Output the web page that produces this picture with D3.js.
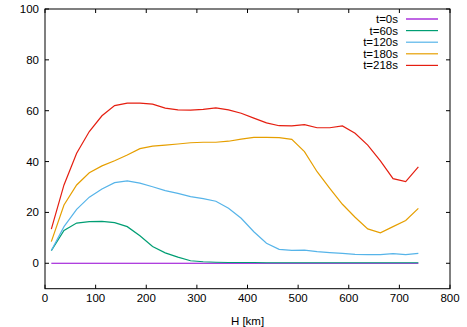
<!DOCTYPE html>
<html>
<head>
<meta charset="utf-8">
<script src="https://cdn.jsdelivr.net/npm/d3@7"></script>
<style>
  body { margin: 0; background: #fff; }
  svg { display: block; font-family: "Liberation Sans", Arial, sans-serif; }
</style>
</head>
<body>
<svg></svg>
<script>
// heights in km, one every 25 km
const heights = d3.range(30).map(i => 12.5 + 25 * i);

const seriesNames = ["t=0s", "t=60s", "t=120s", "t=180s", "t=218s"];
const seriesColors = ["#9400d3", "#009e73", "#56b4e9", "#e69f00", "#e51e10"];

const t0 = heights.map(() => 0);
const t60 = [5.0, 12.9, 15.8, 16.4, 16.5, 16.0, 14.4, 10.8, 6.6, 4.1, 2.4, 1.0, 0.6, 0.4, 0.3, 0.3,
    0.3, 0.2, 0.2, 0.2, 0.2, 0.2, 0.2, 0.2, 0.2, 0.2, 0.2, 0.2, 0.2, 0.2];
const t120 = [5.0, 14.4, 21.2, 26.0, 29.2, 31.7, 32.4, 31.5, 30.1, 28.6, 27.5, 26.2, 25.4, 24.4, 21.6, 17.7,
    12.4, 7.9, 5.5, 5.1, 5.2, 4.6, 4.2, 3.9, 3.5, 3.4, 3.4, 3.8, 3.4, 3.9];
const t180 = [8.5, 22.9, 30.8, 35.6, 38.3, 40.3, 42.6, 45.1, 46.1, 46.5, 46.9, 47.4, 47.6, 47.6, 48.0, 48.8,
    49.5, 49.5, 49.4, 48.7, 43.9, 36.0, 29.5, 23.2, 18.1, 13.5, 12.0, 14.4, 16.8, 21.6];
const t218 = [13.4, 30.8, 43.3, 51.8, 58.0, 62.0, 63.0, 63.0, 62.6, 61.0, 60.3, 60.2, 60.5, 61.1, 60.3, 59.0,
    57.1, 55.2, 54.1, 54.0, 54.5, 53.3, 53.3, 54.0, 51.1, 46.5, 40.3, 33.3, 32.1, 37.9];

const seriesValues = [t0, t60, t120, t180, t218];

const xTicks = d3.range(0, 801, 100);
const yTicks = d3.range(0, 101, 20);

const width = 467;
const height = 327;
const plot = { left: 45, right: 450, top: 9, bottom: 288.7 };

const svg = d3.select("svg")
    .attr("width", width)
    .attr("height", height);

const x = d3.scaleLinear().domain([0, 800]).range([plot.left, plot.right]);
const y = d3.scaleLinear().domain([-10, 100]).range([plot.bottom, plot.top]);

const fontSize = "11.5px";

// ticks on all four sides, pointing inward
const tickLen = 4;
const tickG = svg.append("g").attr("stroke", "#000").attr("stroke-width", 1);
yTicks.forEach(v => {
    tickG.append("line").attr("x1", plot.left).attr("x2", plot.left + tickLen)
        .attr("y1", y(v)).attr("y2", y(v));
    tickG.append("line").attr("x1", plot.right).attr("x2", plot.right - tickLen)
        .attr("y1", y(v)).attr("y2", y(v));
});
xTicks.forEach(v => {
    tickG.append("line").attr("x1", x(v)).attr("x2", x(v))
        .attr("y1", plot.bottom).attr("y2", plot.bottom - tickLen);
    tickG.append("line").attr("x1", x(v)).attr("x2", x(v))
        .attr("y1", plot.top).attr("y2", plot.top + tickLen);
});

// tick labels
svg.append("g").selectAll("text")
    .data(yTicks)
    .enter()
    .append("text")
    .attr("x", plot.left - 6)
    .attr("y", d => y(d))
    .attr("dy", "0.35em")
    .attr("text-anchor", "end")
    .attr("font-size", fontSize)
    .text(d => d);

svg.append("g").selectAll("text")
    .data(xTicks)
    .enter()
    .append("text")
    .attr("x", d => x(d))
    .attr("y", plot.bottom + 13)
    .attr("text-anchor", "middle")
    .attr("font-size", fontSize)
    .text(d => d);

svg.append("text")
    .attr("x", (plot.left + plot.right) / 2)
    .attr("y", 325)
    .attr("text-anchor", "middle")
    .attr("font-size", fontSize)
    .text("H [km]");

// curves
const line = d3.line()
    .x((d, i) => x(heights[i]))
    .y(d => y(d));

svg.append("g").selectAll("path")
    .data(seriesValues)
    .enter()
    .append("path")
    .attr("fill", "none")
    .attr("stroke", (d, i) => seriesColors[i])
    .attr("stroke-width", 1.2)
    .attr("d", line);

// legend
const legend = svg.append("g").selectAll("g")
    .data(seriesNames)
    .enter()
    .append("g")
    .attr("transform", (d, i) => `translate(0, ${19 + i * 11.6})`);

legend.append("text")
    .attr("x", 398)
    .attr("dy", "0.35em")
    .attr("text-anchor", "end")
    .attr("font-size", fontSize)
    .text(d => d);

legend.append("line")
    .attr("x1", 406)
    .attr("x2", 438)
    .attr("stroke", (d, i) => seriesColors[i])
    .attr("stroke-width", 1.2);

// border
svg.append("rect")
    .attr("x", plot.left)
    .attr("y", plot.top)
    .attr("width", plot.right - plot.left)
    .attr("height", plot.bottom - plot.top)
    .attr("fill", "none")
    .attr("stroke", "#000")
    .attr("stroke-width", 1);
</script>
</body>
</html>
